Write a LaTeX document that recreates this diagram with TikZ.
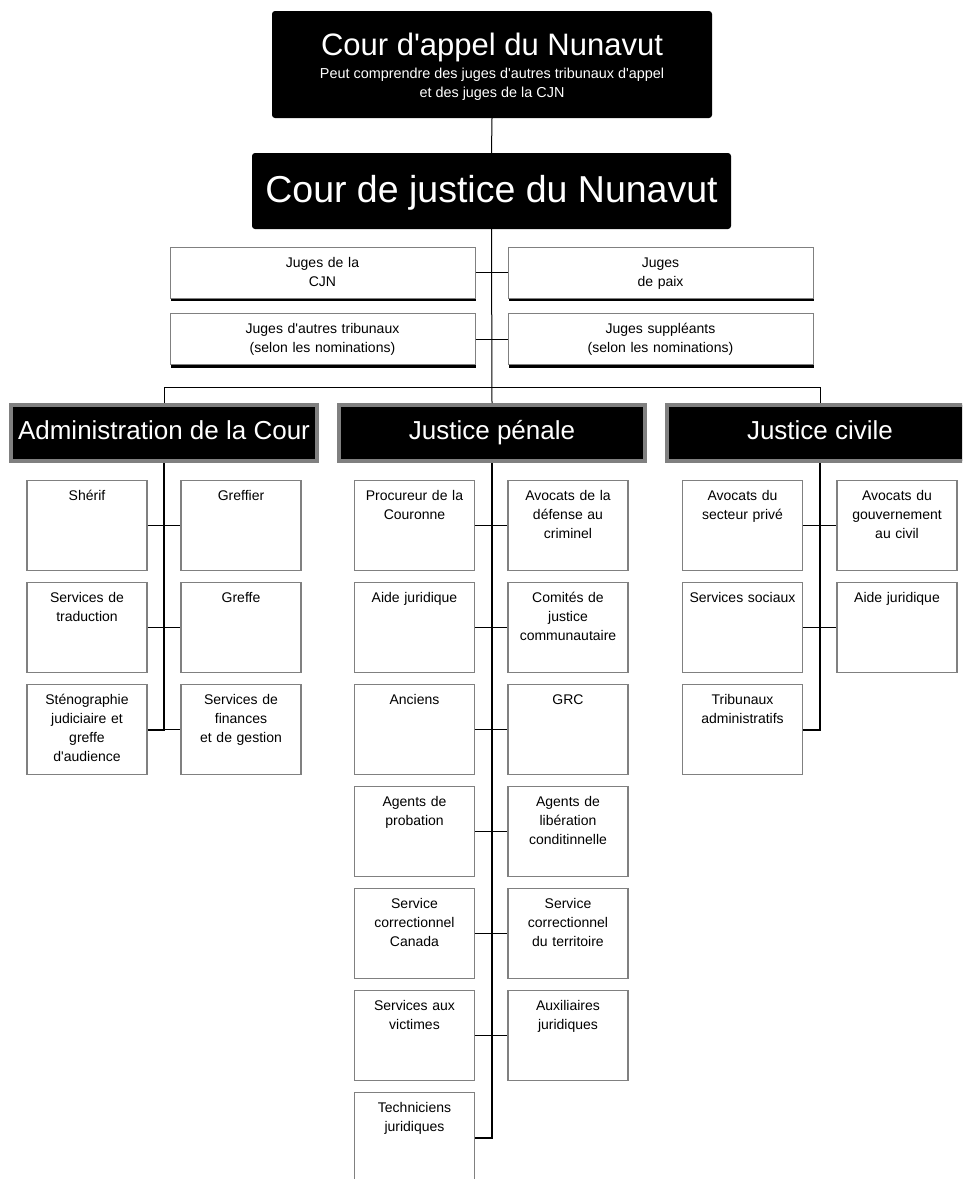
\documentclass[tikz,border=0pt]{standalone}
\usepackage{fontspec}
\setmainfont{Liberation Sans}[Ligatures=TeXOff]
\usepackage{tikz}
\usetikzlibrary{shadows}

\tikzset{
  court/.style={fill=black, text=white, rounded corners=3pt, inner sep=0pt, align=flush center},
  judge/.style={draw=gray, line width=1pt, fill=white, text width=305pt, minimum height=51pt,
    inner sep=0pt, align=center, text height=10pt, text depth=21pt, font=\fontsize{14}{19}\selectfont,
    drop shadow={shadow xshift=1pt, shadow yshift=-3pt, fill=black, opacity=1}},
  head/.style={draw=gray, line width=4pt, fill=black, text=white, minimum width=306pt, minimum height=56pt,
    inner sep=0pt, text height=18pt, text depth=6pt, font=\fontsize{26}{30}\selectfont},
  cell/.style={draw=gray, line width=1.3pt, fill=white, anchor=north, inner sep=0pt, text width=120pt,
    align=center, text height=20pt, text depth=70pt, font=\fontsize{14}{19}\selectfont},
  link/.style={line width=1pt},
  spine/.style={line width=2pt}
}

\begin{document}
\begin{tikzpicture}[x=1pt, y=-1pt]
        \useasboundingbox (0,0) rectangle (962,1179);
        \clip (0,0) rectangle (962,1179);

        % les deux cours
        \node[court, text width=440pt, minimum height=107pt, text height=24pt, text depth=43pt,
          font=\fontsize{31}{19}\selectfont] (appel) at (492,64.5)
          {\spaceskip=0pt\xspaceskip=0pt Cour d'appel du Nunavut\\[4pt]{\fontsize{14.4}{19}\selectfont Peut comprendre des juges d'autres tribunaux d'appel}\\{\fontsize{14.4}{19}\selectfont et des juges de la CJN}};
        \node[court, minimum width=479pt, minimum height=76pt, text height=28pt, text depth=6pt,
          font=\fontsize{37.5}{40}\selectfont] (cjn) at (491.5,191) {Cour de justice du Nunavut};

        % juges
        \node[judge] (jcjn) at (322.5,272.5) {Juges de la\\CJN};
        \node[judge] (jpaix) at (660.5,272.5) {Juges\\de paix};
        \node[judge] (jautres) at (322.5,339) {Juges d'autres tribunaux\\(selon les nominations)};
        \node[judge] (jsuppl) at (660.5,339) {Juges suppléants\\(selon les nominations)};

        % trois secteurs
        \node[head] (hadm) at (164,433) {Administration de la Cour};
        \node[head] (hpen) at (492,433) {Justice pénale};
        \node[head] (hciv) at (820,433) {Justice civile};

        % administration
        \node[cell] (a1) at (87,480) {Shérif};
        \node[cell] (a2) at (241,480) {Greffier};
        \node[cell] (a3) at (87,582) {Services de\\traduction};
        \node[cell] (a4) at (241,582) {Greffe};
        \node[cell] (a5) at (87,684) {Sténographie\\judiciaire et\\greffe\\d'audience};
        \node[cell] (a6) at (241,684) {Services de\\finances\\et de gestion};

        % justice penale
        \node[cell] (p1) at (414.5,480) {Procureur de la\\Couronne};
        \node[cell] (p2) at (568,480) {Avocats de la\\défense au\\criminel};
        \node[cell] (p3) at (414.5,582) {Aide juridique};
        \node[cell] (p4) at (568,582) {Comités de\\justice\\communautaire};
        \node[cell] (p5) at (414.5,684) {Anciens};
        \node[cell] (p6) at (568,684) {GRC};
        \node[cell] (p7) at (414.5,786) {Agents de\\probation};
        \node[cell] (p8) at (568,786) {Agents de\\libération\\conditinnelle};
        \node[cell] (p9) at (414.5,888) {Service\\correctionnel\\Canada};
        \node[cell] (p10) at (568,888) {Service\\correctionnel\\du territoire};
        \node[cell] (p11) at (414.5,990) {Services aux\\victimes};
        \node[cell] (p12) at (568,990) {Auxiliaires\\juridiques};
        \node[cell] (p13) at (414.5,1092) {Techniciens\\juridiques};

        % justice civile
        \node[cell] (c1) at (742.5,480) {Avocats du\\secteur privé};
        \node[cell] (c2) at (897,480) {Avocats du\\gouvernement\\au civil};
        \node[cell] (c3) at (742.5,582) {Services sociaux};
        \node[cell] (c4) at (897,582) {Aide juridique};
        \node[cell] (c5) at (742.5,684) {Tribunaux\\administratifs};

        % liens
        \draw[link] (appel.south) -- (cjn.north);
        \draw[link] (cjn.south) -- (hpen.north);
        \draw[link] (jcjn.east) -- (jpaix.west);
        \draw[link] (jautres.east) -- (jsuppl.west);
        \draw[link] (hadm.north) -- ++(0,-16) -| (hciv.north);
        \draw[spine] (hadm.south) |- (a5.east);
        \draw[spine] (hpen.south) |- (p13.east);
        \draw[spine] (hciv.south) |- (c5.east);
        \foreach \l/\r in {a1/a2, a3/a4, a5/a6, p1/p2, p3/p4, p5/p6, p7/p8, p9/p10, p11/p12, c1/c2, c3/c4}
          \draw[link] (\l.east) -- (\r.west);
\end{tikzpicture}
\end{document}
